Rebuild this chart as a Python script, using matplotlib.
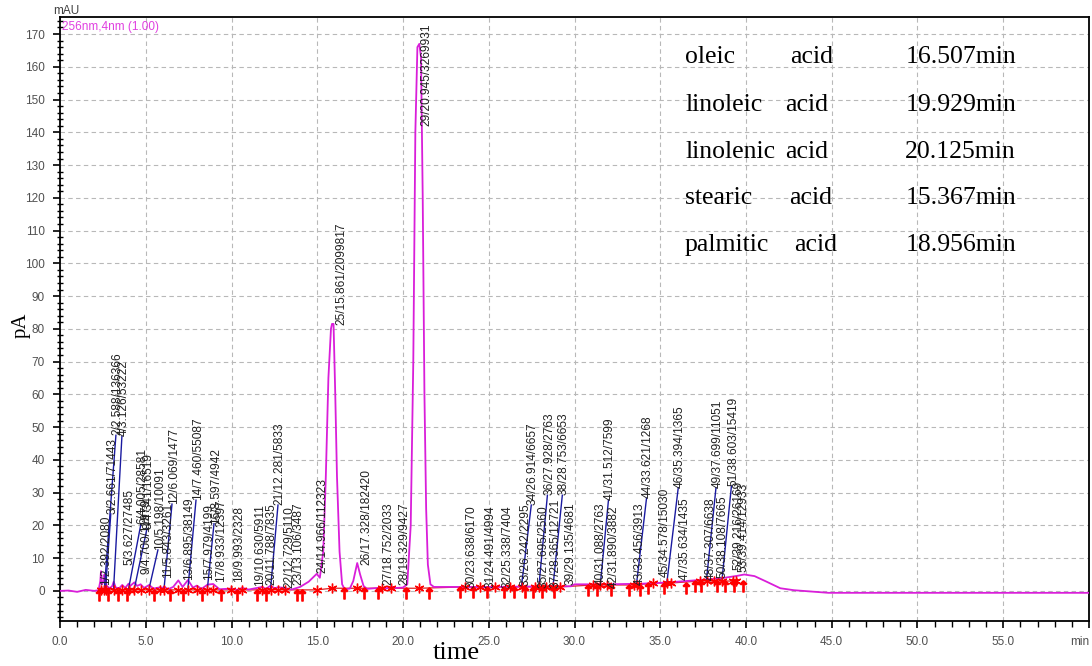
import matplotlib
matplotlib.use('Agg')
import matplotlib.pyplot as plt
from matplotlib.ticker import MultipleLocator

# ---------------- data ----------------
trace_t = [0.0, 0.5, 1.0, 1.5, 2.0, 2.25, 2.35, 2.39, 2.45, 2.55, 2.59, 2.63, 2.66, 2.72, 2.9,
           3.05, 3.13, 3.25, 3.45, 3.63, 3.8, 4.0, 4.1, 4.2, 4.34, 4.5, 4.7, 4.9, 5.2, 5.45,
           5.84, 5.95, 6.07, 6.3, 6.6, 6.9, 7.15, 7.46, 7.75, 7.98, 8.25, 8.6, 8.93, 9.3, 9.99,
           10.3, 10.63, 11.0, 11.79, 12.0, 12.28, 12.5, 12.73, 13.1, 13.5, 14.0, 14.5, 14.97,
           15.15, 15.35, 15.5, 15.65, 15.8, 15.86, 15.95, 16.05, 16.15, 16.3, 16.45, 16.6,
           16.9, 17.1, 17.33, 17.5, 17.7, 17.9, 18.75, 19.0, 19.33, 19.6, 20.0, 20.25, 20.45,
           20.6, 20.72, 20.84, 20.95, 21.05, 21.15, 21.25, 21.35, 21.45, 21.6, 21.8, 23.0,
           25.0, 27.0, 29.0, 29.8, 30.0, 32.0, 34.0, 35.5, 37.0, 38.5, 39.5, 39.9, 40.5,
           41.2, 42.0, 42.8, 44.8, 60.0]
trace_y = [0.0, 0.1, -0.3, 0.3, 0.0, 0.2, 3.0, 6.0, 2.0, 3.0, 5.0, 3.5, 4.0, 1.5, 0.8,
           1.5, 2.8, 1.0, 0.8, 1.8, 0.9, 2.2, 1.5, 2.0, 2.6, 1.5, 2.0, 0.9, 1.8, 0.7,
           1.1, 0.8, 1.3, 0.5, 1.2, 3.2, 1.2, 3.3, 1.0, 1.6, 0.6, 1.9, 2.1, 0.5, 0.7,
           0.3, 0.9, 0.4, 1.2, 0.6, 1.6, 0.8, 1.1, 0.9, 0.4, 1.2, 2.8, 5.2,
           4.0, 12.0, 35.0, 65.0, 80.0, 81.5, 81.5, 60.0, 35.0, 12.0, 2.0, 0.5,
           0.7, 3.0, 8.5, 5.0, 1.5, 0.6, 1.0, 0.7, 1.3, 0.9, 1.0, 2.0, 20.0,
           70.0, 140.0, 166.0, 167.0, 163.0, 120.0, 60.0, 25.0, 8.0, 2.0, 1.2, 1.2,
           1.2, 1.3, 1.4, 1.4, 2.0, 2.0, 2.2, 2.6, 3.2, 3.8, 4.6, 5.0, 4.5,
           2.8, 0.8, 0.2, -0.6, -0.6]

peak_id = [1, 2, 3, 4, 5, 6, 8, 9, 10, 11, 12, 13, 14, 15, 16, 17, 18, 19, 20, 21, 22, 23, 24, 25,
           26, 27, 28, 29, 30, 31, 32, 33, 34, 35, 36, 37, 38, 39, 40, 41, 42, 43, 44, 45, 46,
           47, 48, 49, 50, 51, 52, 53]
peak_rt = [2.392, 2.588, 2.661, 3.126, 3.627, 4.005, 4.341, 4.700, 5.198, 5.843, 6.069, 6.895,
           7.460, 7.979, 8.597, 8.933, 9.993, 10.630, 11.788, 12.281, 12.729, 13.106, 14.966,
           15.861, 17.328, 18.752, 19.329, 20.945, 23.638, 24.491, 25.338, 26.242, 26.914,
           27.695, 27.928, 28.365, 28.753, 29.135, 31.088, 31.512, 31.890, 33.456, 33.621,
           34.578, 35.394, 35.634, 37.307, 37.699, 38.108, 38.603, 39.216, 39.414]
peak_area = [2080, 136366, 71443, 53222, 27485, 28581, 16519, 11979, 10091, 3261, 1477, 38149,
             55087, 4199, 4942, 12397, 2328, 5911, 7835, 5833, 5110, 3487, 112323, 2099817,
             182420, 2033, 9427, 3269931, 6170, 4994, 7404, 2295, 6657, 2560, 2763, 12721, 6653,
             4681, 2763, 7599, 3882, 3913, 1268, 15030, 1365, 1435, 6638, 11051, 7665, 15419,
             26169, 12933]
label_x = [2.31, 3.01, 2.71, 3.36, 3.71, 4.47, 4.82, 4.67, 5.46, 5.93, 6.28, 7.15, 7.68, 8.32,
           8.73, 9.02, 10.07, 11.30, 12.0, 12.46, 13.05, 13.57, 14.97, 16.05, 17.54, 18.83,
           19.76, 21.0, 23.67, 24.78, 25.77, 26.77, 27.23, 27.82, 28.17, 28.52, 29.04, 29.45,
           31.2, 31.73, 31.96, 33.48, 33.95, 34.9, 35.8, 36.1, 37.6, 38.0, 38.3, 38.9, 39.2, 39.5]
label_y = [1.8, 47.5, 23.5, 47.2, 8.0, 20.5, 19.0, 5.0, 12.5, 4.0, 26.5, 3.4, 27.7, 3.4, 20.5,
           2.7, 2.7, 1.5, 1.8, 26.2, 0.9, 1.8, 5.5, 81.2, 7.9, 1.8, 1.8, 142.0, 1.0, 1.0, 1.0,
           1.5, 26.2, 1.0, 29.2, 1.0, 29.2, 1.8, 1.8, 27.7, 1.0, 1.8, 28.3, 4.3, 31.5, 3.4,
           3.4, 31.5, 4.0, 32.0, 6.4, 5.8]
base_y = [0.3, 0.3, 0.3, 0.3, 0.3, 0.3, 0.3, 0.3, 0.3, 0.3, 0.3, 0.3, 0.3, 0.3, 0.3, 0.3, 0.3,
          0.3, 0.3, 0.3, 0.3, 0.3, 0.3, 0.8, 0.8, 0.8, 0.8, 0.8, 1.2, 1.2, 1.2, 1.2, 1.2, 1.2,
          1.2, 1.2, 1.2, 1.2, 1.8, 1.8, 1.8, 1.8, 1.8, 2.4, 2.4, 2.4, 3.0, 3.0, 3.0, 3.0, 3.0, 3.0]
leader = [False, True, True, True, False, True, True, False, True, False, True, False, True,
          False, True, False, False, False, False, True, False, False, False, False, False,
          False, False, False, False, False, False, False, True, False, True, False, True,
          False, False, True, False, False, True, False, True, False, False, True, False,
          True, False, False]

arrow_t = [2.25, 2.8, 3.4, 3.9, 5.5, 6.4, 7.2, 8.3, 9.4, 10.3, 11.5, 12.0, 13.8, 14.1, 16.55,
           17.7, 18.55, 20.2, 21.5, 23.3, 24.1, 24.9, 25.9, 26.5, 27.1, 27.6, 28.1, 28.8,
           30.8, 31.3, 32.1, 33.2, 33.8, 34.3, 35.2, 36.5, 37.0, 37.4, 38.3, 38.8, 39.3, 39.8]
arrow_y = [-1.2, -1.2, -1.2, -1.2, -1.2, -1.2, -1.2, -1.2, -1.2, -1.2, -1.2, -1.2, -1.2, -1.2,
           -0.8, -0.8, -0.8, -0.8, -0.8, -0.4, -0.4, -0.4, -0.4, -0.4, -0.4, -0.4, -0.4, -0.4,
           0.2, 0.2, 0.2, 0.2, 0.2, 0.8, 0.8, 0.8, 1.4, 1.4, 1.4, 1.4, 1.4, 1.4]

acid_names = ["oleic", "linoleic", "linolenic", "stearic", "palmitic"]
acid_times = ["16.507min", "19.929min", "20.125min", "15.367min", "18.956min"]
table_y = [163.0, 148.4, 134.0, 120.0, 105.6]
acid_word_x = [42.6, 42.3, 42.3, 42.5, 42.8]

x_ticks = [0, 5, 10, 15, 20, 25, 30, 35, 40, 45, 50, 55, 60]
x_ticklabels = ["0.0", "5.0", "10.0", "15.0", "20.0", "25.0", "30.0", "35.0", "40.0",
                "45.0", "50.0", "55.0", "min"]
y_ticks = list(range(0, 171, 10))

# ---------------- figure ----------------
W, H = 1092, 666
fig = plt.figure(figsize=(W / 100, H / 100), dpi=100)
ax = fig.add_axes([60 / W, 1 - 621 / H, (1089 - 60) / W, (621 - 17) / H])
ax.set_xlim(0, 60)
ax.set_ylim(-9.2, 175.2)

ax.grid(True, which='major', linestyle=(0, (4, 3)), color='#b8b8b8', linewidth=0.8)
ax.set_axisbelow(True)

magenta = '#d91ed9'
ax.plot(peak_rt, base_y, color='#e02020', lw=0.9, zorder=2)
ax.plot(trace_t, trace_y, color=magenta, lw=1.3, zorder=3)

for lx, ly, rt, by, ld in zip(label_x, label_y, peak_rt, base_y, leader):
    if ld:
        ax.plot([rt, lx + 0.25], [by + 0.5, ly], color='#1a1aa0', lw=1.0, zorder=4)

ax.plot(peak_rt, base_y, ls='none', marker=(6, 2, 0), color='red', ms=7, mew=1.0, zorder=5)
ax.plot(arrow_t, arrow_y, ls='none', marker='$\\uparrow$', color='red', ms=8, zorder=5)

for pid, rt, ar, lx, ly in zip(peak_id, peak_rt, peak_area, label_x, label_y):
    ax.text(lx, ly, f"{pid}/{rt:.3f}/{ar}", rotation=90, ha='left', va='bottom',
            fontsize=8.6, family='Liberation Sans', color='#202020', zorder=6, clip_on=True)

for name, tm, ty, ax_x in zip(acid_names, acid_times, table_y, acid_word_x):
    ax.text(36.45, ty, name, ha='left', va='center', family='Liberation Serif',
            fontsize=18.5, color='black')
    ax.text(ax_x, ty, "acid", ha='left', va='center', family='Liberation Serif',
            fontsize=18.5, color='black')
    ax.text(55.75, ty, tm, ha='right', va='center', family='Liberation Serif',
            fontsize=18.5, color='black')

ax.set_xticks(x_ticks)
ax.set_xticklabels(x_ticklabels)
ax.set_yticks(y_ticks)
ax.xaxis.set_minor_locator(MultipleLocator(1))
ax.yaxis.set_minor_locator(MultipleLocator(2))
ax.tick_params(which='major', direction='out', length=5, width=1.2, colors='black',
               labelcolor='#505050', labelsize=8.5, pad=6)
ax.tick_params(axis='y', which='minor', direction='inout', length=4, width=1)
ax.tick_params(axis='x', which='minor', direction='out', length=4, width=1)
for lbl in ax.get_xticklabels() + ax.get_yticklabels():
    lbl.set_family('Liberation Sans')
xl = ax.get_xticklabels()
xl[-1].set_horizontalalignment('right')

for s in ax.spines.values():
    s.set_color('black')
    s.set_linewidth(1.3)

fig.text(53 / W, 1 - 11.5 / H, 'mAU', ha='left', va='center', fontsize=8.5,
         family='Liberation Sans', color='#404040')
ax.text(0.002, 0.993, '256nm,4nm (1.00)', transform=ax.transAxes, ha='left', va='top',
        fontsize=8.5, family='Liberation Sans', color='#e040e0')
fig.text(21 / W, 1 - 325 / H, 'pA', rotation=90, ha='center', va='center', fontsize=15,
         family='Liberation Serif', color='black')
fig.text(456 / W, 1 - 653 / H, 'time', ha='center', va='center', fontsize=19,
         family='Liberation Serif', color='black')

fig.savefig('out.png', dpi=100)
